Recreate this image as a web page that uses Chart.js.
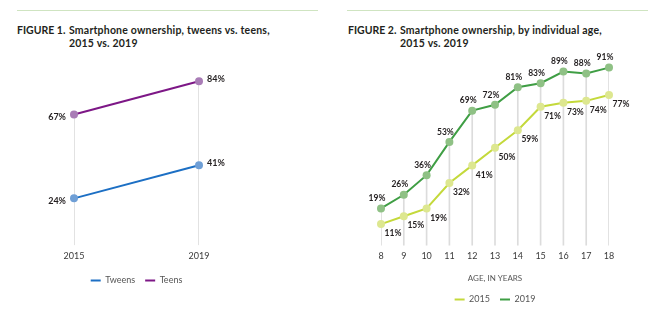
<!DOCTYPE html>
<html>
<head>
<meta charset="utf-8">
<script src="https://cdn.jsdelivr.net/npm/chart.js@4"></script>
<style>
  body { margin: 0; background: #fff; font-family: Lato, sans-serif; }
  #page { position: relative; width: 650px; height: 323px; overflow: hidden; }
  .rule { position: absolute; top: 10px; height: 0; border-top: 1px solid #cfe4c1; }
  .title { position: absolute; top: 24px; display: flex; font-size: 10.5px; font-weight: 700; line-height: 13px; color: #231f20; }
  .title .fig { width: 52px; flex: none; }
  .title .txt { letter-spacing: 0.2px; }
  .panel { position: absolute; top: 40px; }
</style>
</head>
<body>
<div id="page">
  <div class="rule" style="left:17px;width:301px"></div>
  <div class="rule" style="left:347px;width:301px"></div>
  <div class="title" style="left:17px"><span class="fig">FIGURE 1.</span><span class="txt">Smartphone ownership, tweens vs. teens,<br>2015 vs. 2019</span></div>
  <div class="title" style="left:348px"><span class="fig">FIGURE 2.</span><span class="txt">Smartphone ownership, by individual age,<br>2015 vs. 2019</span></div>
  <div class="panel" style="left:0"><canvas id="fig1" width="325" height="283"></canvas></div>
  <div class="panel" style="left:325px"><canvas id="fig2" width="325" height="283"></canvas></div>
</div>
<script>
// Figure 1 data
const years = ["2015", "2019"];
const tweens = [24, 41];
const teens = [67, 84];

// Figure 2 data
const ages = ["8", "9", "10", "11", "12", "13", "14", "15", "16", "17", "18"];
const own2015 = [11, 15, 19, 32, 41, 50, 59, 71, 73, 74, 77];
const own2019 = [19, 26, 36, 53, 69, 72, 81, 83, 89, 88, 91];

// percent labels next to each point
const pointLabels = {
    id: "pointLabels",
    afterDatasetsDraw(chart, args, opts) {
        const ctx = chart.ctx;
        ctx.save();
        ctx.font = "bold " + opts.size + "px Lato";
        ctx.fillStyle = "#231f20";
        ctx.textBaseline = "middle";
        chart.data.datasets.forEach((ds, i) => {
            if (!ds.labelAt) return;
            chart.getDatasetMeta(i).data.forEach((pt, j) => {
                const p = ds.labelAt(j);
                ctx.textAlign = p.align;
                ctx.fillText(ds.data[j] + "%", pt.x + p.dx, pt.y + p.dy);
            });
        });
        ctx.restore();
    }
};

function lineSet(label, data, line, dot, order, labelAt) {
    return {
        type: "line",
        label: label,
        data: data,
        borderColor: line,
        backgroundColor: line,
        borderWidth: 2,
        pointRadius: 4,
        pointBorderWidth: 0,
        pointBackgroundColor: dot,
        pointBorderColor: dot,
        clip: false,
        order: order,
        labelAt: labelAt
    };
}

function dropLines(a, b) {
    return {
        type: "bar",
        label: "grid",
        data: a.map((v, i) => Math.max(v, b[i])),
        backgroundColor: "#dcdcdc",
        barThickness: 1,
        order: 9
    };
}

// legend shows the line colour, not the point colour
function legendItems(chart) {
    const items = Chart.defaults.plugins.legend.labels.generateLabels(chart);
    items.forEach(it => {
        const ds = chart.data.datasets[it.datasetIndex];
        it.strokeStyle = ds.borderColor;
        it.lineWidth = ds.borderWidth;
    });
    return items;
}

function baseOptions(pad, xTitle, labelSize) {
    return {
        responsive: false,
        animation: false,
        layout: { padding: pad },
        scales: {
            x: {
                offset: false,
                grid: { display: false, drawTicks: false, offset: false },
                border: { display: false },
                ticks: { padding: 5, color: "#3a3a3a", font: { family: "Lato", size: 9 } },
                title: xTitle
            },
            y: { display: false, min: 0, max: 100 }
        },
        plugins: {
            tooltip: { enabled: false },
            legend: {
                position: "bottom",
                labels: {
                    usePointStyle: true,
                    pointStyle: "line",
                    pointStyleWidth: 10,
                    boxHeight: 2,
                    padding: 10,
                    color: "#555",
                    font: { family: "Lato", size: 9 },
                    generateLabels: legendItems,
                    filter: (item) => item.text !== "grid"
                }
            },
            pointLabels: { size: labelSize }
        }
    };
}

new Chart(document.getElementById("fig1"), {
    type: "line",
    data: {
        labels: years,
        datasets: [
            lineSet("Tweens", tweens, "#1c6fc4", "#6f9fd6", 1,
                (j) => j === 0 ? { align: "right", dx: -8, dy: 3 } : { align: "left", dx: 8, dy: -2.5 }),
            lineSet("Teens", teens, "#7d1786", "#a97cb6", 2,
                (j) => j === 0 ? { align: "right", dx: -8, dy: 2.5 } : { align: "left", dx: 8, dy: -2 }),
            dropLines(tweens, teens)
        ]
    },
    options: baseOptions({ top: 10, left: 74, right: 126, bottom: 28 }, { display: false }, 9),
    plugins: [pointLabels]
});

new Chart(document.getElementById("fig2"), {
    type: "line",
    data: {
        labels: ages,
        datasets: [
            lineSet("2015", own2015, "#c4d93b", "#dde790", 1,
                () => ({ align: "center", dx: 12, dy: 9.5 })),
            lineSet("2019", own2019, "#3f9e44", "#8fc185", 2,
                () => ({ align: "center", dx: -4, dy: -10 })),
            dropLines(own2015, own2019)
        ]
    },
    options: baseOptions({ top: 10, left: 56, right: 41, bottom: 9 }, {
        display: true,
        text: "AGE, IN YEARS",
        color: "#555",
        font: { family: "Lato", size: 8 },
        padding: { top: 7, bottom: 2 }
    }, 8.5),
    plugins: [pointLabels]
});
</script>
</body>
</html>
